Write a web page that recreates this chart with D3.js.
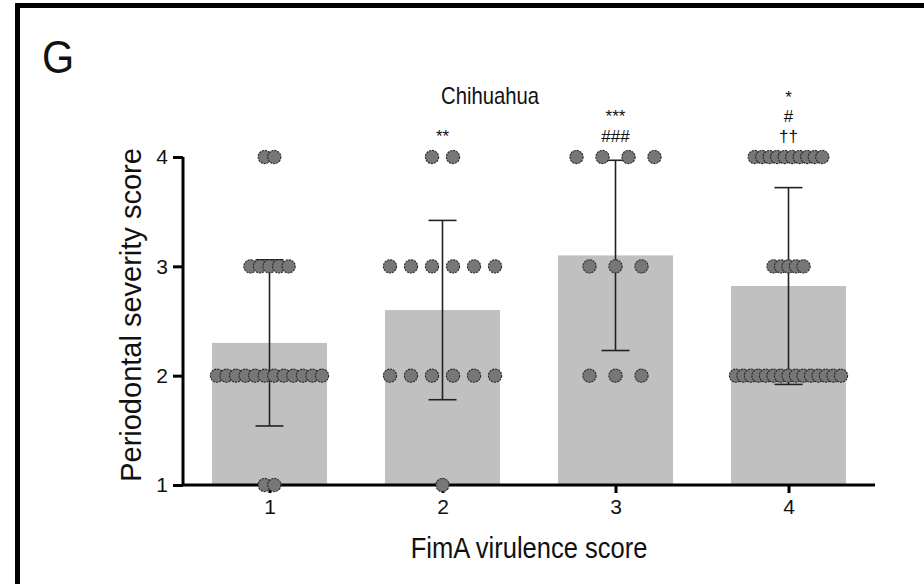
<!DOCTYPE html>
<html>
<head>
<meta charset="utf-8">
<script src="https://cdn.jsdelivr.net/npm/d3@7"></script>
<style>
  body { margin: 0; background: #fff; }
  text { font-family: "Liberation Sans", Arial, sans-serif; fill: #111; }
</style>
</head>
<body>
<script>
// FimA score groups
const groups = ["1", "2", "3", "4"];
const means = [2.30, 2.60, 3.10, 2.82];
const sds = [0.76, 0.82, 0.87, 0.90];

// number of dogs at each severity score, per group
const scoreLevels = [4, 3, 2, 1];
const countsAt4 = [2, 2, 4, 10];
const countsAt3 = [5, 6, 3, 5];
const countsAt2 = [12, 6, 3, 15];
const countsAt1 = [2, 1, 0, 0];

// significance marks, top line first
const marks = [[], ["**"], ["***", "###"], ["*", "#", "††"]];

const yTicks = [1, 2, 3, 4];

const W = 924, H = 584;
const m = {top: 157, bottom: 99, left: 183, right: 49};
const w = W - m.left - m.right;
const h = H - m.top - m.bottom;
const sx = 0.88; // text in the source looks a bit narrow

const svg = d3.select("body")
    .append("svg")
    .attr("width", W)
    .attr("height", H);

// panel frame
svg.append("rect")
    .attr("x", 17.5).attr("y", 5.5)
    .attr("width", 1000).attr("height", 1000)
    .attr("fill", "none")
    .attr("stroke", "#000")
    .attr("stroke-width", 5);

svg.append("text")
    .attr("transform", `translate(42, 73) scale(${sx}, 1)`)
    .attr("font-size", 47)
    .text("G");

const g = svg.append("g")
    .attr("transform", `translate(${m.left}, ${m.top})`);

const x = d3.scalePoint().domain(groups).range([0, w]).padding(0.5);
const y = d3.scaleLinear().domain([1, 4]).range([h, 0]);
const barW = x.step() * 0.665;

// bars
g.selectAll("rect.bar")
    .data(groups)
    .enter()
    .append("rect")
    .attr("class", "bar")
    .attr("x", d => x(d) - barW / 2)
    .attr("y", (d, i) => y(means[i]))
    .attr("width", barW)
    .attr("height", (d, i) => y(1) - y(means[i]))
    .attr("fill", "#c0c0c0");

// error bars (mean ± SD)
const capW = 28;
groups.forEach((d, i) => {
    const hi = y(means[i] + sds[i]), lo = y(means[i] - sds[i]);
    const cx = x(d);
    g.append("line").attr("x1", cx).attr("x2", cx).attr("y1", hi).attr("y2", lo);
    g.append("line").attr("x1", cx - capW / 2).attr("x2", cx + capW / 2).attr("y1", hi).attr("y2", hi);
    g.append("line").attr("x1", cx - capW / 2).attr("x2", cx + capW / 2).attr("y1", lo).attr("y2", lo);
});
g.selectAll("line").attr("stroke", "#222").attr("stroke-width", 1.6);

// individual dots
const countRows = [countsAt4, countsAt3, countsAt2, countsAt1];
const dots = [];
groups.forEach((d, i) => {
    const maxN = d3.max(countRows, r => r[i]);
    const step = maxN > 1 ? Math.min(26, (barW - 10) / (maxN - 1)) : 0;
    countRows.forEach((row, k) => {
        const n = row[i];
        for (let j = 0; j < n; j++) {
            dots.push({group: d, score: scoreLevels[k], off: (j - (n - 1) / 2) * step});
        }
    });
});

// axes
const yAxis = d3.axisLeft(y).tickValues(yTicks).tickFormat(d3.format("d")).tickSize(10).tickPadding(5);
const xAxis = d3.axisBottom(x).tickSize(8).tickPadding(6);

const ya = g.append("g").call(yAxis);
const xa = g.append("g").attr("transform", `translate(0, ${h})`).call(xAxis);
[ya, xa].forEach(a => {
    a.select(".domain").attr("stroke", "#000").attr("stroke-width", 3);
    a.selectAll(".tick line").attr("stroke", "#000").attr("stroke-width", 3);
    a.selectAll(".tick text").attr("font-size", 21).attr("fill", "#222")
        .attr("font-family", "'Liberation Sans', Arial, sans-serif");
});
ya.select(".domain").attr("d", `M0,${h}V0`);
xa.select(".domain").attr("d", `M0,0H${w}`);

g.selectAll("circle")
    .data(dots)
    .enter()
    .append("circle")
    .attr("cx", d => x(d.group) + d.off)
    .attr("cy", d => y(d.score))
    .attr("r", 6.6)
    .attr("fill", "#777")
    .attr("stroke", "#2a2a2a")
    .attr("stroke-width", 1.1)
    .attr("stroke-dasharray", "2.2,0.9");

// significance marks, one stacked text per group
const lineGap = 19.6;
groups.forEach((d, i) => {
    const lines = marks[i];
    if (!lines.length) return;
    const t = g.append("text")
        .attr("x", x(d))
        .attr("y", y(4) - 15 - (lines.length - 1) * lineGap)
        .attr("text-anchor", "middle")
        .attr("font-size", 17)
        .attr("fill", "#333");
    lines.forEach((s, k) => {
        t.append("tspan")
            .attr("x", x(d))
            .attr("dy", k === 0 ? 0 : lineGap)
            .text(s);
    });
});

// titles
svg.append("text")
    .attr("transform", `translate(${m.left + w / 2 - 39}, 104) scale(${sx}, 1)`)
    .attr("text-anchor", "middle")
    .attr("font-size", 23)
    .text("Chihuahua");

svg.append("text")
    .attr("transform", `translate(${m.left + w / 2}, 558) scale(${sx}, 1)`)
    .attr("text-anchor", "middle")
    .attr("font-size", 29)
    .text("FimA virulence score");

svg.append("text")
    .attr("transform", `translate(141, ${m.top + h / 2 - 6}) rotate(-90)`)
    .attr("text-anchor", "middle")
    .attr("font-size", 29)
    .text("Periodontal severity score");
</script>
</body>
</html>
